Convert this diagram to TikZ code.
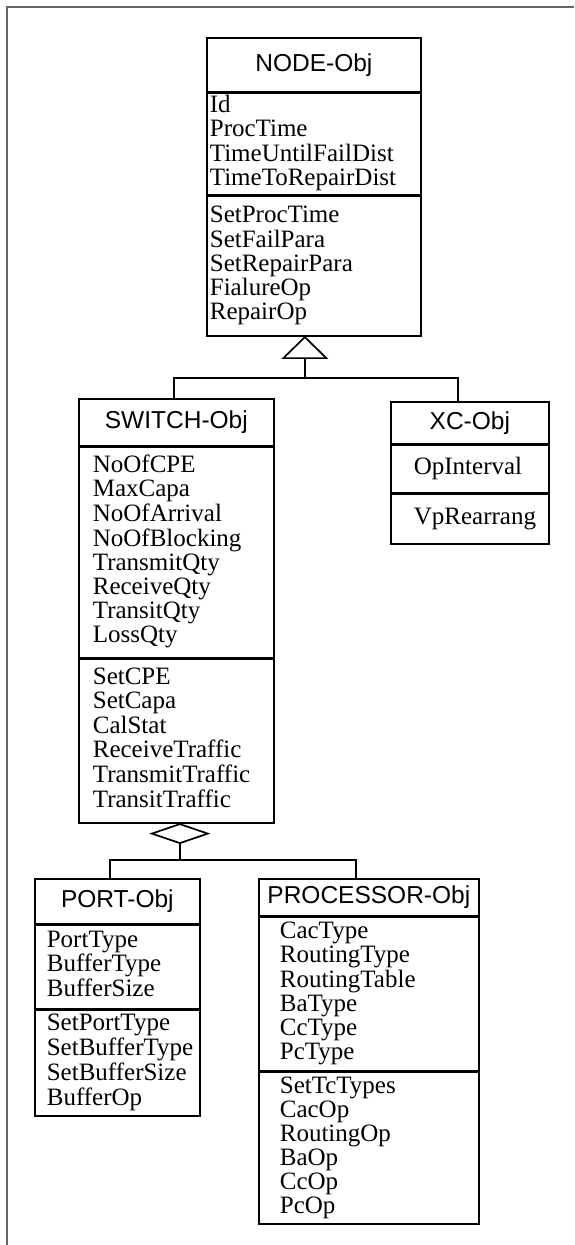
\documentclass[tikz,border=0pt]{standalone}
\usepackage{fontspec}
\setmainfont{Liberation Serif}
\newfontfamily\headfont{Liberation Sans}
\usetikzlibrary{calc}

% one compartment of fields, indented from the left edge of its box
\newcommand{\fields}[2]{\begin{tabular}{@{\hspace*{#1}}l@{}}#2\end{tabular}}

\tikzset{
  part/.style={draw, line width=1.7pt, anchor=north west, inner sep=0pt},
  head/.style={part, font=\headfont\fontsize{24.5}{24.5}\selectfont},
  list/.style={part, align=left, font=\fontsize{25}{24}\selectfont},
  link/.style={line width=1.7pt},
}

\begin{document}
\begin{tikzpicture}[x=1pt, y=-1pt]
  \useasboundingbox (0,0) rectangle (574,1245);
  % frame of the page: top and left edge only
  \draw[black!60, line width=1.5pt] (7,1245) -- (7,7) -- (574,7);

  % NODE-Obj
  \node[head, minimum width=214pt, minimum height=54pt] (nodeT) at (206,37) {NODE-Obj};
  \node[list, text width=214pt, minimum height=101pt] (nodeA) at (nodeT.south west)
    {\fields{3pt}{Id\\ProcTime\\TimeUntilFailDist\\TimeToRepairDist}};
  \node[list, text width=214pt, minimum height=140pt] (nodeM) at (nodeA.south west)
    {\fields{3pt}{SetProcTime\\SetFailPara\\SetRepairPara\\FialureOp\\RepairOp}};

  % SWITCH-Obj
  \node[head, minimum width=195pt, minimum height=47pt] (switchT) at (78,398) {SWITCH-Obj};
  \node[list, text width=195pt, minimum height=210pt] (switchA) at (switchT.south west)
    {\fields{14pt}{NoOfCPE\\MaxCapa\\NoOfArrival\\NoOfBlocking\\TransmitQty\\ReceiveQty\\TransitQty\\LossQty}};
  \node[list, text width=195pt, minimum height=164pt] (switchM) at (switchA.south west)
    {\fields{14pt}{SetCPE\\SetCapa\\CalStat\\ReceiveTraffic\\TransmitTraffic\\TransitTraffic}};

  % XC-Obj
  \node[head, minimum width=158pt, minimum height=42pt] (xcT) at (390,401) {XC-Obj};
  \node[list, text width=158pt, minimum height=47pt] (xcA) at (xcT.south west)
    {\fields{23pt}{OpInterval}};
  \node[list, text width=158pt, minimum height=50pt] (xcM) at (xcA.south west)
    {\fields{23pt}{VpRearrang}};

  % PORT-Obj
  \node[head, minimum width=165pt, minimum height=45pt] (portT) at (34,878) {PORT-Obj};
  \node[list, text width=165pt, minimum height=83pt] (portA) at (portT.south west)
    {\fields{12pt}{PortType\\BufferType\\BufferSize}};
  \node[list, text width=165pt, minimum height=106pt] (portM) at (portA.south west)
    {\fields{12pt}{SetPortType\\SetBufferType\\SetBufferSize\\BufferOp}};

  % PROCESSOR-Obj
  \node[head, minimum width=220pt, minimum height=37pt] (procT) at (258,878) {PROCESSOR-Obj};
  \node[list, text width=220pt, minimum height=153pt] (procA) at (procT.south west)
    {\fields{21pt}{CacType\\RoutingType\\RoutingTable\\BaType\\CcType\\PcType}};
  \node[list, text width=220pt, minimum height=152pt] (procM) at (procA.south west)
    {\fields{21pt}{SetTcTypes\\CacOp\\RoutingOp\\BaOp\\CcOp\\PcOp}};

  % inheritance: hollow triangle under NODE-Obj
  \coordinate (genTip) at ([xshift=-9pt]nodeM.south);
  \draw[link, fill=white] (genTip) -- ++(-21.5,21) coordinate (genL)
    -- ++(43,0) coordinate (genR) -- cycle;
  \coordinate (genFoot) at ($(genL)!0.5!(genR)$);
  \draw[link] (genFoot) -- ++(0,20) coordinate (genBus);
  \draw[link] (genBus) -| ([xshift=-2.5pt]switchT.north);
  \draw[link] (genBus) -| ([xshift=-12pt]xcT.north);

  % aggregation: hollow diamond under SWITCH-Obj
  \coordinate (aggTop) at ([xshift=3.5pt]switchM.south);
  \draw[link, fill=white] (aggTop) -- ++(28,9.5) -- ++(-28,9.5) coordinate (aggFoot)
    -- ++(-28,-9.5) -- cycle;
  \draw[link] (aggFoot) -- ++(0,17) coordinate (aggBus);
  \draw[link] (aggBus) -| ([xshift=-7.5pt]portT.north);
  \draw[link] (aggBus) -| ([xshift=-13pt]procT.north);
\end{tikzpicture}
\end{document}
